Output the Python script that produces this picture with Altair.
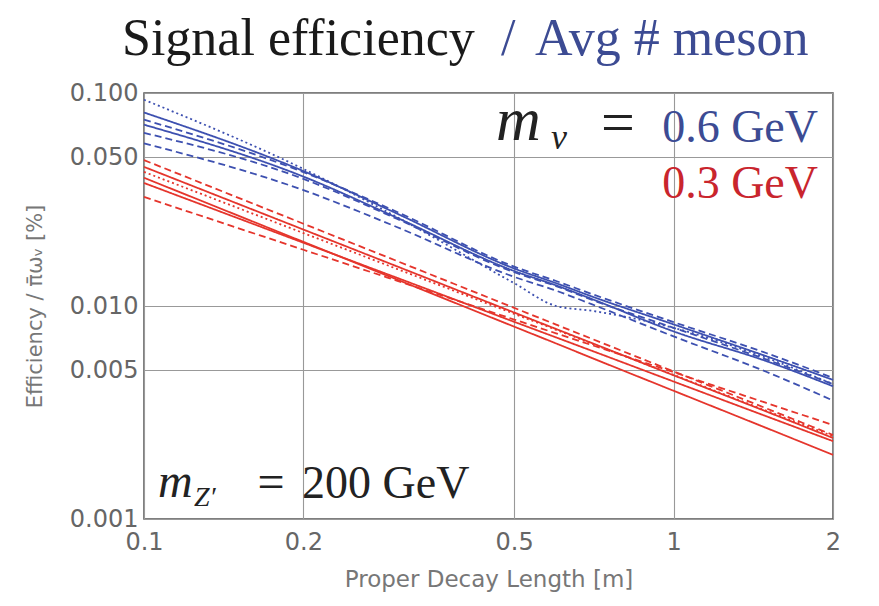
import altair as alt
import pandas as pd

# ---- data ----
x_vals = [0.1, 0.2, 0.3, 0.5, 0.6, 0.7, 1.0, 1.5, 2.0]

blue_names = ["b1", "b2", "b3", "b4", "b5", "b6"]
blue_styles = ["dotted", "solid", "dashed", "solid", "dashed", "dashed"]
blue_vals = [
    [0.093, 0.0440, 0.0262, 0.0128, 0.0100, 0.0095, 0.0079, 0.0057, 0.0043],
    [0.081, 0.0430, 0.0272, 0.0150, 0.0128, 0.0111, 0.0082, 0.0058, 0.0045],
    [0.075, 0.0425, 0.0277, 0.0153, 0.0131, 0.0114, 0.0084, 0.0060, 0.0046],
    [0.071, 0.0405, 0.0260, 0.0146, 0.0125, 0.0108, 0.0076, 0.0055, 0.0042],
    [0.065, 0.0395, 0.0257, 0.0144, 0.0124, 0.0107, 0.0079, 0.0056, 0.0043],
    [0.058, 0.0350, 0.0235, 0.0137, 0.0118, 0.0102, 0.0072, 0.0049, 0.0036],
]

red_names = ["r1", "r2", "r3", "r4", "r5", "r6"]
red_styles = ["dashed", "solid", "dotted", "solid", "solid", "dashed"]
red_vals = [
    [0.0484, 0.02434, 0.01628, 0.00980, 0.00818, 0.00702, 0.00493, 0.00330, 0.00248],
    [0.0450, 0.02285, 0.01537, 0.00932, 0.00780, 0.00671, 0.00473, 0.00319, 0.00240],
    [0.0426, 0.02200, 0.01495, 0.00919, 0.00773, 0.00667, 0.00475, 0.00322, 0.00245],
    [0.0400, 0.02000, 0.01333, 0.00800, 0.00667, 0.00571, 0.00400, 0.00267, 0.00200],
    [0.0378, 0.01981, 0.01358, 0.00843, 0.00712, 0.00617, 0.00442, 0.00303, 0.00232],
    [0.0325, 0.01837, 0.01316, 0.00864, 0.00744, 0.00656, 0.00489, 0.00350, 0.00276],
]

x_ticks = [0.1, 0.2, 0.5, 1, 2]
y_ticks = [0.001, 0.005, 0.01, 0.05, 0.1]

BLUE = "#3d50b0"
RED = "#e5352c"
BLUE_TXT = "#3c4b93"
RED_TXT = "#c9252d"

rows = []
for name, style, vals in zip(blue_names, blue_styles, blue_vals):
    for xv, yv in zip(x_vals, vals):
        rows.append({"x": xv, "y": yv, "series": name, "group": "0.6", "style": style})
for name, style, vals in zip(red_names, red_styles, red_vals):
    for xv, yv in zip(x_vals, vals):
        rows.append({"x": xv, "y": yv, "series": name, "group": "0.3", "style": style})
df = pd.DataFrame(rows)

W, H = 689, 426

lines = alt.Chart(df).mark_line(strokeWidth=1.8, interpolate="monotone").encode(
    x=alt.X("x:Q", scale=alt.Scale(type="log", domain=[0.1, 2], nice=False),
            axis=alt.Axis(values=x_ticks, format="~g", title="Proper Decay Length [m]",
                          grid=True, gridColor="#999", gridWidth=1.1, gridOpacity=1,
                          ticks=False, domain=False, labelFont="DejaVu Sans",
                          labelFontSize=24, labelColor="#666", labelPadding=11,
                          titleFont="DejaVu Sans", titleFontSize=23, titleColor="#777",
                          titleFontWeight="normal", titlePadding=14, labelFlush=False)),
    y=alt.Y("y:Q", scale=alt.Scale(type="log", domain=[0.001, 0.1], nice=False),
            axis=alt.Axis(values=y_ticks, format=".3f",
                          title="Efficiency / π̄ωᵥ  [%]",
                          grid=True, gridColor="#999", gridWidth=1.1, gridOpacity=1,
                          ticks=False, domain=False, labelFont="DejaVu Sans",
                          labelFontSize=24, labelColor="#666", labelPadding=6,
                          titleFont="DejaVu Sans", titleFontSize=21, titleColor="#777",
                          titleFontWeight="normal", titlePadding=24, labelFlush=False)),
    color=alt.Color("group:N", scale=alt.Scale(domain=["0.6", "0.3"], range=[BLUE, RED]), legend=None),
    strokeDash=alt.StrokeDash("style:N", scale=alt.Scale(domain=["solid", "dashed", "dotted"],
                                                        range=[[1, 0], [7, 4], [2, 3]]), legend=None),
    detail="series:N",
)


def txt(s, x, y, size, color="#222", italic=False, align="left", font="Liberation Serif"):
    d = pd.DataFrame({"t": [s]})
    return alt.Chart(d).mark_text(
        font=font, fontSize=size, color=color, align=align, baseline="alphabetic",
        fontStyle="italic" if italic else "normal",
    ).encode(text="t:N", x=alt.value(x), y=alt.value(y))


title_parts = [
    txt("Signal efficiency", -22, -38, 52, "#1a1a1a"),
    txt("/", 357, -38, 52, BLUE_TXT),
    txt("Avg # meson", 391, -38, 52, BLUE_TXT),
]
ann = [
    txt("m", 352, 47, 62, "#222", italic=True),
    txt("v", 407, 56, 36, "#222", italic=True),
    txt("=", 474, 49, 60, "#222", align="center"),
    txt("0.6 GeV", 674, 49, 46, BLUE_TXT, align="right"),
    txt("0.3 GeV", 674, 105, 46, RED_TXT, align="right"),
    txt("m", 14, 404, 48, "#222", italic=True),
    txt("Z′", 50, 413, 28, "#222", italic=True),
    txt("=", 127, 405, 48, "#222", align="center"),
    txt("200 GeV", 158, 405, 46, "#222"),
]

chart = alt.layer(lines, *title_parts, *ann).properties(
    width=W, height=H,
    autosize=alt.AutoSizeParams(type="none"),
    padding={"left": 136, "top": 85, "right": 38, "bottom": 84},
).configure_view(stroke="#555", strokeWidth=1.5)

chart.save("out.html", embed_options={"renderer": "svg", "actions": False})
